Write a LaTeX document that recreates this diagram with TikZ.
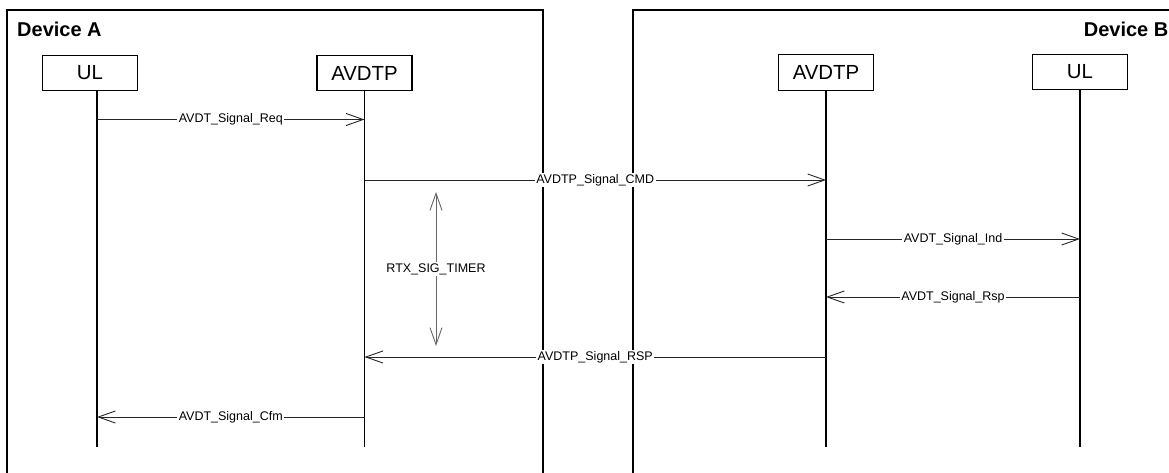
\documentclass[tikz,border=0pt]{standalone}
\usepackage{fontspec}
\setmainfont{Liberation Sans}
\usetikzlibrary{arrows.meta}
\begin{document}
\begin{tikzpicture}[x=1pt,y=-1pt,
  box/.style={draw, line width=1.3pt, minimum width=95pt, minimum height=35.5pt, inner sep=0pt, font=\fontsize{20.4}{24}\selectfont},
  life/.style={line width=1.4pt},
  frame/.style={line width=2.2pt},
  msg/.style={line width=0.9pt, draw=black!85, -{Straight Barb[length=17pt,width=12pt,line width=0.9pt]}},
  timer/.style={line width=1pt, draw=black!60, {Straight Barb[length=17pt,width=12pt,line width=0.9pt]}-{Straight Barb[length=17pt,width=12pt,line width=0.9pt]}},
  lbl/.style={fill=white, inner sep=1.5pt, text=black, font=\fontsize{12.5}{15}\selectfont},
  title/.style={inner sep=0pt, font=\bfseries\fontsize{20}{24}\selectfont}]
\useasboundingbox (0,0) rectangle (1169,472);
\clip (0,0) rectangle (1169,472);
% device frames
\draw[frame] (7,480) -- (7,10) -- (543,10) -- (543,480);
\draw[frame] (1180,10) -- (633,10) -- (633,480);
\node[title, anchor=base west] (ta) at (17,36) {Device A};
\node[title, anchor=base east] (tb) at (1168.5,36) {Device B};
% entities
\node[box] (ulA) at (90,73) {UL};
\node[box] (avA) at (364.5,73) {AVDTP};
\node[box] (avB) at (826,72.5) {AVDTP};
\node[box] (ulB) at (1080,72) {UL};
% lifeline tops (UL of device A is drawn off-centre, as in the original)
\coordinate (lA) at (97,91);
% rows
\coordinate (bot) at (0,447);
\coordinate (r1) at (0,119.5);
\coordinate (r2) at (0,180);
\coordinate (r3) at (0,239);
\coordinate (r4) at (0,297);
\coordinate (r5) at (0,357);
\coordinate (r6) at (0,417);
\coordinate (tt) at (436,192);
\coordinate (tbm) at (436,346);
% lifelines
\draw[life] (lA) -- (lA |- bot);
\draw[life] (avA.south) -- (avA |- bot);
\draw[life] (avB.south) -- (avB |- bot);
\draw[life] (ulB.south) -- (ulB |- bot);
% messages
\draw[msg] (lA |- r1) -- node[lbl]{AVDT\_Signal\_Req} (avA |- r1);
\draw[msg] (avA |- r2) -- node[lbl]{AVDTP\_Signal\_CMD} (avB |- r2);
\draw[msg] (avB |- r3) -- node[lbl]{AVDT\_Signal\_Ind} (ulB |- r3);
\draw[msg] (ulB |- r4) -- node[lbl]{AVDT\_Signal\_Rsp} (avB |- r4);
\draw[msg] (avB |- r5) -- node[lbl]{AVDTP\_Signal\_RSP} (avA |- r5);
\draw[msg] (avA |- r6) -- node[lbl]{AVDT\_Signal\_Cfm} (lA |- r6);
% timer
\draw[timer] (tt) -- node[lbl]{RTX\_SIG\_TIMER} (tbm);
\end{tikzpicture}
\end{document}
